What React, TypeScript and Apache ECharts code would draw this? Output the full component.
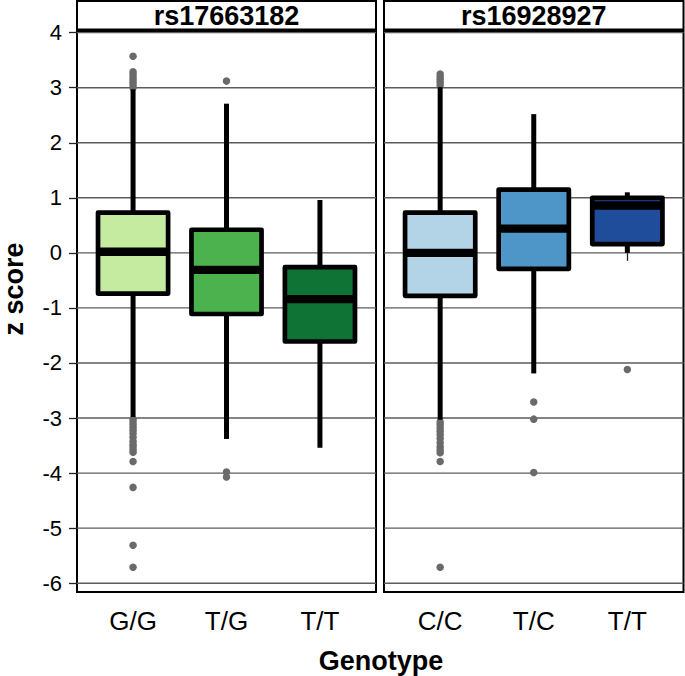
import React, { useEffect, useRef } from 'react';
import * as echarts from 'echarts';

// ---- data ----
const panelTitles = ['rs17663182', 'rs16928927'];
const genotypes1 = ['G/G', 'T/G', 'T/T'];
const genotypes2 = ['C/C', 'T/C', 'T/T'];
// [lower whisker, Q1, median, Q3, upper whisker]
const boxes1 = [
  [-2.98, -0.74, 0.02, 0.73, 2.97],
  [-3.38, -1.11, -0.31, 0.42, 2.71],
  [-3.54, -1.61, -0.84, -0.26, 0.96],
];
const boxes2 = [
  [-3.03, -0.78, 0.0, 0.73, 3.01],
  [-2.19, -0.29, 0.44, 1.15, 2.52],
  [0.0, 0.16, 0.86, 1.0, 1.1],
];
const outliers1 = [
  [3.0, 3.05, 3.1, 3.15, 3.2, 3.25, 3.29, 3.57, -3.02, -3.07, -3.12, -3.17, -3.22, -3.28, -3.35, -3.42, -3.48, -3.52, -3.57, -3.62, -3.79, -4.26, -5.31, -5.71],
  [3.12, -3.98, -4.07],
  [],
];
const outliers2 = [
  [3.04, 3.1, 3.15, 3.2, 3.25, -3.07, -3.12, -3.18, -3.24, -3.3, -3.37, -3.45, -3.52, -3.58, -3.63, -3.79, -5.71],
  [-2.71, -3.02, -3.99],
  [-2.12],
];
const colors1 = ['#c4eba0', '#4cb24e', '#0e7335'];
const colors2 = ['#b3d4e7', '#4f96c8', '#1f4c9b'];
const yTicks = [-6, -5, -4, -3, -2, -1, 0, 1, 2, 3, 4];
const xTicks = [1, 2, 3];

const FONT = '"Liberation Sans", Arial, Helvetica, sans-serif';
const W = 685;
const H = 676;
const PANEL_TOP = 31;
const PANEL_H = 561;
const PANELS = [
  { left: 77, width: 299 },
  { left: 384, width: 299.5 },
];
const Y_MIN = -6.16;
const Y_MAX = 4.03;
const BOX_WIDTH = 0.75;

export default function App() {
  const ref = useRef<HTMLDivElement>(null);

  useEffect(() => {
    if (!ref.current) return;
    const chart = echarts.init(ref.current, undefined, { renderer: 'svg' });

    const allBoxes = [boxes1, boxes2];
    const allOut = [outliers1, outliers2];
    const allColors = [colors1, colors2];
    const allCats = [genotypes1, genotypes2];

    const grids = PANELS.map((p) => ({
      left: p.left,
      top: PANEL_TOP,
      width: p.width,
      height: PANEL_H,
      show: true,
      borderColor: '#000',
      borderWidth: 2,
      backgroundColor: '#fff',
      containLabel: false,
    }));

    const xAxes = PANELS.map((_, i) => ({
      type: 'value',
      gridIndex: i,
      min: 0.4,
      max: 3.6,
      splitLine: { show: false },
      axisLine: { show: false },
      axisTick: { show: true, customValues: xTicks, length: 8, lineStyle: { color: '#222', width: 1.3 } },
      axisLabel: {
        show: true,
        customValues: xTicks,
        formatter: (v: number) => allCats[i][Math.round(v) - 1] ?? '',
        fontSize: 26,
        fontFamily: FONT,
        color: '#000',
        margin: 16,
      },
    }));

    const yAxes = PANELS.map((_, i) => ({
      type: 'value',
      gridIndex: i,
      min: Y_MIN,
      max: Y_MAX,
      splitLine: { show: false },
      axisLine: { show: false },
      axisTick: i === 0
        ? { show: true, customValues: yTicks, length: 8, lineStyle: { color: '#222', width: 1.3 } }
        : { show: false },
      axisLabel: i === 0
        ? { show: true, customValues: yTicks, fontSize: 22, fontFamily: FONT, color: '#000', margin: 15 }
        : { show: false },
    }));

    const series: any[] = [];
    PANELS.forEach((_, i) => {
      // grid lines
      series.push({
        type: 'custom',
        xAxisIndex: i,
        yAxisIndex: i,
        z: 1,
        silent: true,
        data: yTicks.map((t) => [1, t]),
        encode: { x: 0, y: 1 },
        renderItem: (params: any, api: any) => {
          const cs = params.coordSys;
          const p = api.coord([1, api.value(1)]);
          return {
            type: 'line',
            shape: { x1: cs.x, y1: p[1], x2: cs.x + cs.width, y2: p[1] },
            style: { stroke: '#5c5c5c', lineWidth: 1.4 },
          };
        },
      });
      // outliers
      const pts: number[][] = [];
      allOut[i].forEach((arr, k) => arr.forEach((v) => pts.push([k + 1, v])));
      series.push({
        type: 'scatter',
        xAxisIndex: i,
        yAxisIndex: i,
        z: 2,
        symbolSize: 7.5,
        itemStyle: { color: '#6a6a6a', opacity: 1 },
        data: pts,
      });
      // boxes
      const colors = allColors[i];
      series.push({
        type: 'custom',
        xAxisIndex: i,
        yAxisIndex: i,
        z: 3,
        data: allBoxes[i].map((b, k) => [k + 1, ...b]),
        encode: { x: 0, y: [1, 2, 3, 4, 5] },
        renderItem: (params: any, api: any) => {
          const x = api.value(0);
          const lo = api.coord([x, api.value(1)]);
          const q1 = api.coord([x, api.value(2)]);
          const med = api.coord([x, api.value(3)]);
          const q3 = api.coord([x, api.value(4)]);
          const hi = api.coord([x, api.value(5)]);
          const w = api.size([BOX_WIDTH, 0])[0];
          const cx = q1[0];
          return {
            type: 'group',
            children: [
              { type: 'line', shape: { x1: cx, y1: q1[1], x2: cx, y2: lo[1] }, style: { stroke: '#000', lineWidth: 5 } },
              { type: 'line', shape: { x1: cx, y1: q3[1], x2: cx, y2: hi[1] }, style: { stroke: '#000', lineWidth: 5 } },
              {
                type: 'rect',
                shape: { x: cx - w / 2, y: q3[1], width: w, height: q1[1] - q3[1] },
                style: { fill: colors[params.dataIndex], stroke: '#000', lineWidth: 4.7, lineJoin: 'round' },
              },
              {
                type: 'line',
                shape: { x1: cx - w / 2, y1: med[1], x2: cx + w / 2, y2: med[1] },
                style: { stroke: '#000', lineWidth: 8.3 },
              },
            ],
          };
        },
      });
    });

    const graphics: any[] = [];
    PANELS.forEach((p, i) => {
      graphics.push({
        type: 'rect',
        shape: { x: p.left, y: 1, width: p.width, height: 28.5 },
        style: { fill: '#fff', stroke: '#000', lineWidth: 2 },
        z: 10,
      });
      graphics.push({
        type: 'text',
        x: p.left + p.width / 2,
        y: 16,
        style: {
          text: panelTitles[i],
          fontSize: 27,
          fontWeight: 'bold',
          fontFamily: FONT,
          fill: '#000',
          align: 'center',
          verticalAlign: 'middle',
        },
        z: 11,
      });
    });
    graphics.push({
      type: 'text',
      x: 14,
      y: 289,
      rotation: Math.PI / 2,
      style: {
        text: 'z score',
        fontSize: 27,
        fontWeight: 'bold',
        fontFamily: FONT,
        fill: '#000',
        align: 'center',
        verticalAlign: 'middle',
      },
    });
    graphics.push({
      type: 'text',
      x: 381,
      y: 661,
      style: {
        text: 'Genotype',
        fontSize: 27,
        fontWeight: 'bold',
        fontFamily: FONT,
        fill: '#000',
        align: 'center',
        verticalAlign: 'middle',
      },
    });

    chart.setOption({
      animation: false,
      backgroundColor: '#fff',
      grid: grids,
      xAxis: xAxes,
      yAxis: yAxes,
      series,
      graphic: graphics,
    });

    return () => chart.dispose();
  }, []);

  return (
    <div
      ref={ref}
      style={{ position: 'fixed', left: 0, top: 0, width: W, height: H, background: '#fff' }}
    />
  );
}
